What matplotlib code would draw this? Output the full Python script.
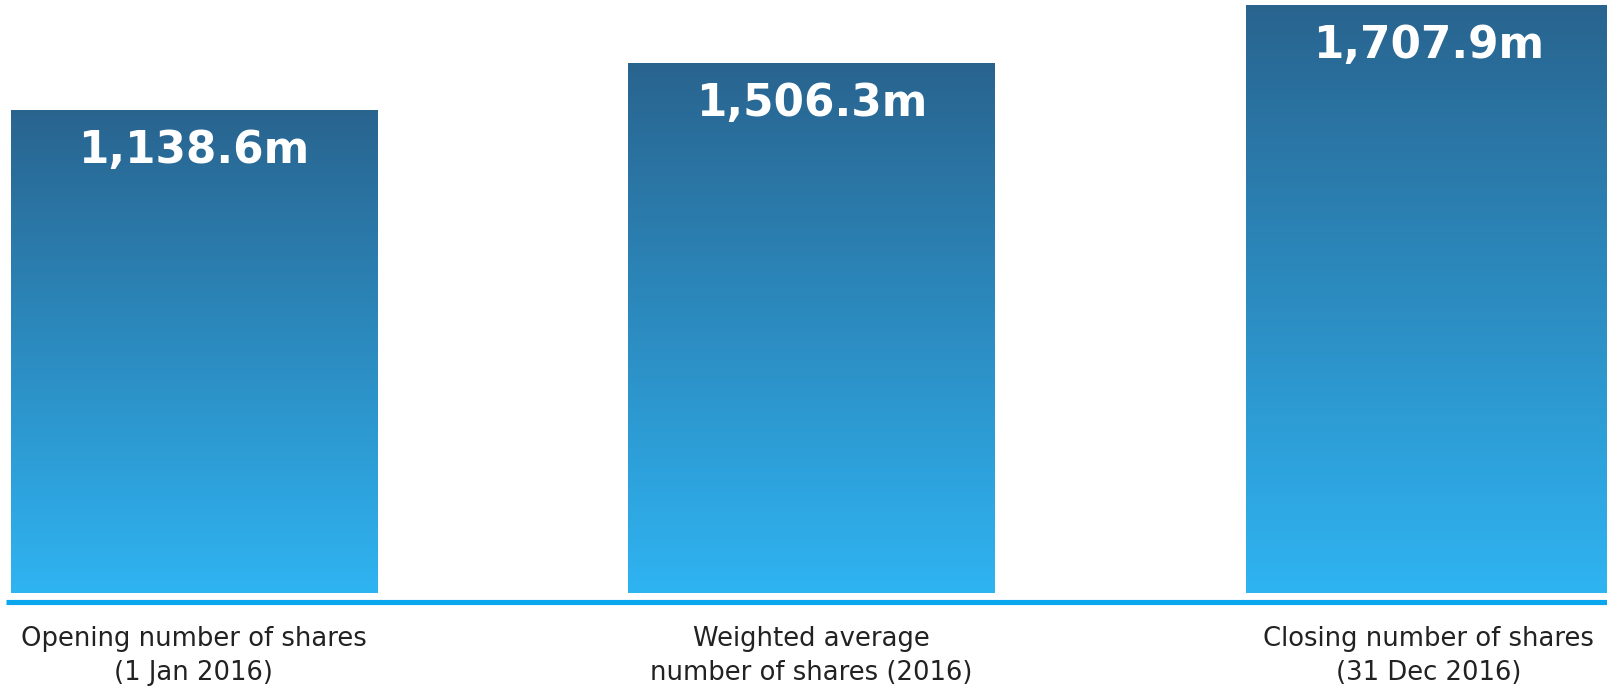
import numpy as np
import matplotlib
matplotlib.use("Agg")
import matplotlib.pyplot as plt
from matplotlib.colors import LinearSegmentedColormap

# data
categories = ["Opening number of shares\n(1 Jan 2016)",
              "Weighted average\nnumber of shares (2016)",
              "Closing number of shares\n(31 Dec 2016)"]
values = [1138.6, 1506.3, 1707.9]          # millions of shares
# drawn heights as shown in the source graphic (not to scale with the values)
bar_heights = [483, 530, 588]

dark = "#29648f"
light = "#2fb4f2"
line_col = "#0aa6ee"
cmap = LinearSegmentedColormap.from_list("bars", [light, dark])

fig = plt.figure(figsize=(16.08, 6.91), dpi=100)
ax = fig.add_axes([0, 0, 1, 1])
ax.set_xlim(-0.314, 2.290)
ax.set_ylim(-98, 593)
ax.axis("off")

x = np.arange(len(values))
bars = ax.bar(x, bar_heights, width=0.593, color="none", edgecolor="none")

grad = np.linspace(0, 1, 256).reshape(-1, 1)
for b in bars:
    x0, y0 = b.get_x(), b.get_y()
    w, h = b.get_width(), b.get_height()
    im = ax.imshow(grad, cmap=cmap, origin="lower", aspect="auto",
                   extent=[x0, x0 + w, y0, y0 + h], zorder=1)
    im.set_clip_path(b)

# restore limits after imshow
ax.set_xlim(-0.314, 2.290)
ax.set_ylim(-98, 593)

# baseline
ax.plot([-0.304, 2.290], [-8.5, -8.5], color=line_col, lw=3.7,
        solid_capstyle="butt", zorder=2)

for xi, h, v in zip(x, bar_heights, values):
    ax.text(xi, h - 40, f"{v:,.1f}m", ha="center", va="center",
            color="white", fontsize=31.5, fontweight="bold", zorder=3)

for xi, lab in zip(x, categories):
    ax.text(xi, -63, lab, ha="center", va="center", color="#222222",
            fontsize=18.6, linespacing=1.45, zorder=3)

fig.savefig("out.png", dpi=100)
